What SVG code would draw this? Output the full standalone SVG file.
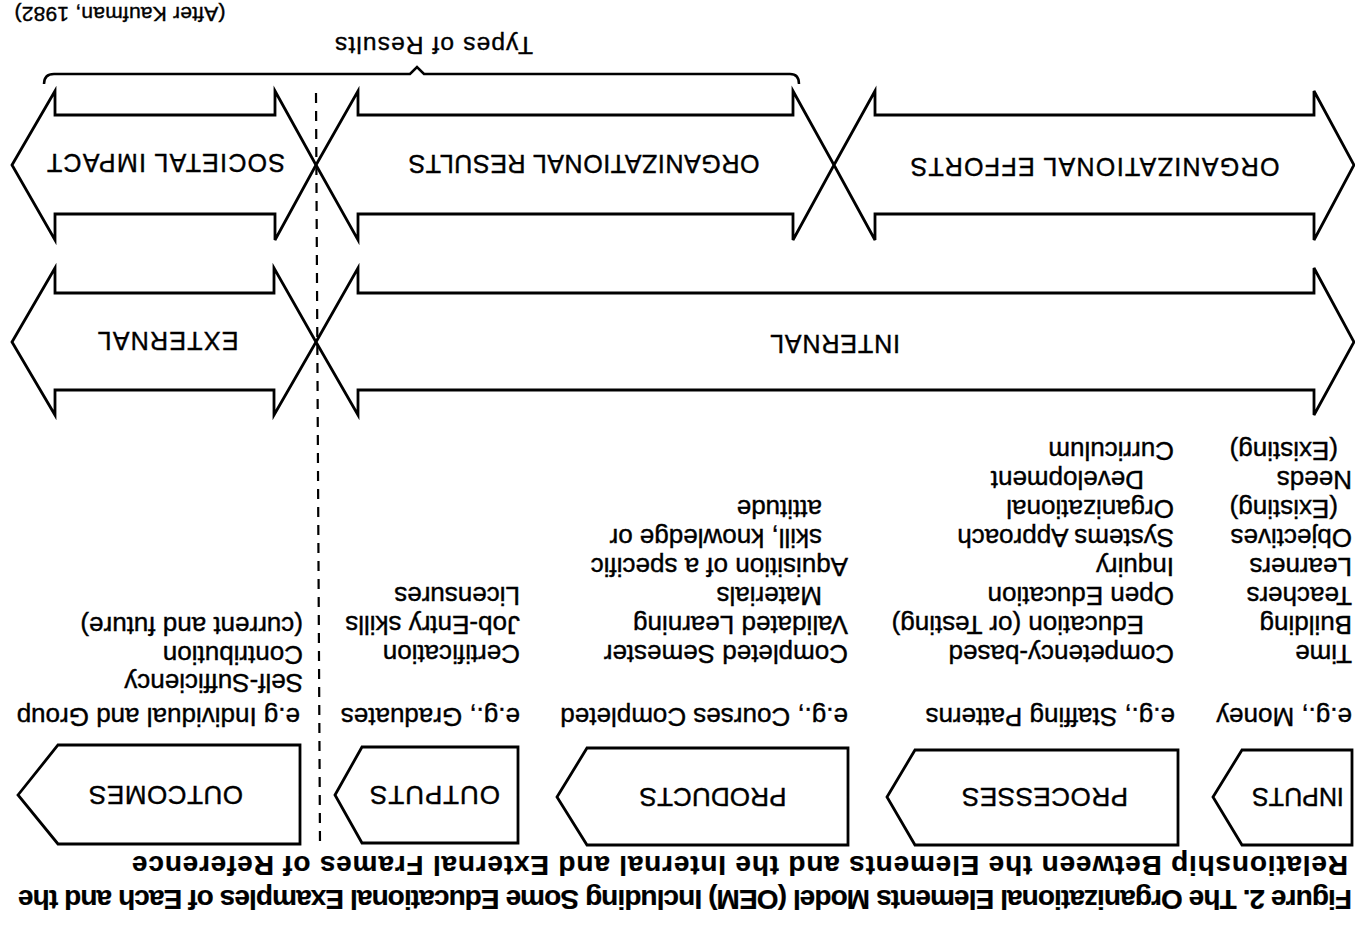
<svg xmlns="http://www.w3.org/2000/svg" width="1355" height="925" viewBox="0 0 1355 925">
<style>
.sh{fill:#fff;stroke:#000;stroke-width:2.8;stroke-linejoin:miter}
.t{font-family:"Liberation Sans",Arial,Helvetica,sans-serif;fill:#000;stroke:#000;stroke-width:0.4}
.b{font-size:26px}
.lab{font-size:25px}
.box{font-size:26px}
.cap{font-size:28px;font-weight:bold;stroke-width:0.2}
.note{font-size:21px}
.dash{fill:none;stroke:#000;stroke-width:2.2;stroke-dasharray:10 8}
.brace{fill:none;stroke:#000;stroke-width:2.5}
</style>
<rect width="1355" height="925" fill="#fff"/>

<!-- source note and brace -->
<g id="source">
<text class="t note" x="120" y="7" text-anchor="middle" textLength="211" lengthAdjust="spacing" transform="rotate(180 120 7)">(After Kaufman, 1982)</text>
</g>
<g id="types-of-results">
<path class="brace" d="M44,84 Q44,74 54,74 L410,74 L417,67 L424,74 L790,74 Q799,74 799,84"/>
<text class="t" style="font-size:24.5px" x="434" y="37" text-anchor="middle" textLength="198" lengthAdjust="spacing" transform="rotate(180 434 37)">Types of Results</text>
</g>

<!-- top band -->
<g id="societal-impact">
<polygon class="sh" points="12,165 55,91 55,115 275,115 275,91 316,165 275,240 275,214 55,214 55,240"/>
<text class="t lab" x="166" y="154" text-anchor="middle" textLength="238" lengthAdjust="spacing" transform="rotate(180 166 154)">SOCIETAL IMPACT</text>
</g>
<g id="organizational-results">
<polygon class="sh" points="316,165 358,91 358,115 793,115 793,91 834,165 793,240 793,214 358,214 358,240"/>
<text class="t lab" x="584" y="155" text-anchor="middle" textLength="351" lengthAdjust="spacing" transform="rotate(180 584 155)">ORGANIZATIONAL RESULTS</text>
</g>
<g id="organizational-efforts">
<polygon class="sh" points="834,165 875,91 875,115 1314,115 1314,91 1354,165 1314,240 1314,214 875,214 875,240"/>
<text class="t lab" x="1095" y="158" text-anchor="middle" textLength="369" lengthAdjust="spacing" transform="rotate(180 1095 158)">ORGANIZATIONAL EFFORTS</text>
</g>

<!-- middle band -->
<g id="external">
<polygon class="sh" points="12,342 55,268 55,293 274,293 274,268 316,342 274,415 274,390 55,390 55,415"/>
<text class="t lab" x="168" y="332" text-anchor="middle" textLength="141" lengthAdjust="spacing" transform="rotate(180 168 332)">EXTERNAL</text>
</g>
<g id="internal">
<polygon class="sh" points="316,342 358,268 358,293 1314,293 1314,268 1354,342 1314,415 1314,390 358,390 358,415"/>
<text class="t lab" x="835" y="335" text-anchor="middle" textLength="130" lengthAdjust="spacing" transform="rotate(180 835 335)">INTERNAL</text>
</g>

<!-- divider -->
<g id="connectors">
<line class="dash" x1="316" y1="93" x2="320" y2="845"/>
</g>

<!-- element boxes -->
<g id="inputs">
<polygon class="sh" points="1213,797 1242,750 1352,750 1352,845 1242,845"/>
<text class="t" style="font-size:25px" x="1298" y="788" text-anchor="middle" transform="rotate(180 1298 788)">INPUTS</text>
<g class="t b">
<text x="1352" y="708" transform="rotate(180 1352 708)">e.g., Money</text>
<text x="1352" y="645" transform="rotate(180 1352 645)">Time</text>
<text x="1352" y="616" transform="rotate(180 1352 616)">Building</text>
<text x="1352" y="587" transform="rotate(180 1352 587)">Teachers</text>
<text x="1352" y="558" transform="rotate(180 1352 558)">Learners</text>
<text x="1352" y="529" transform="rotate(180 1352 529)">Objectives</text>
<text x="1338" y="500" transform="rotate(180 1338 500)">(Existing)</text>
<text x="1352" y="471" transform="rotate(180 1352 471)">Needs</text>
<text x="1338" y="442" transform="rotate(180 1338 442)">(Existing)</text>
</g>
</g>

<g id="processes">
<polygon class="sh" points="887,797 915,750 1178,750 1178,845 915,845"/>
<text class="t box" x="1045" y="788" text-anchor="middle" textLength="166" lengthAdjust="spacing" transform="rotate(180 1045 788)">PROCESSES</text>
<g class="t b">
<text x="1175" y="708" transform="rotate(180 1175 708)">e.g., Staffing Patterns</text>
<text x="1174" y="645" transform="rotate(180 1174 645)">Competency-based</text>
<text x="1144" y="616" transform="rotate(180 1144 616)">Education (or Testing)</text>
<text x="1174" y="587" transform="rotate(180 1174 587)">Open Education</text>
<text x="1174" y="558" transform="rotate(180 1174 558)">Inquiry</text>
<text x="1174" y="529" transform="rotate(180 1174 529)">Systems Approach</text>
<text x="1174" y="500" transform="rotate(180 1174 500)">Organizational</text>
<text x="1144" y="471" transform="rotate(180 1144 471)">Development</text>
<text x="1174" y="442" transform="rotate(180 1174 442)">Curriculum</text>
</g>
</g>

<g id="products">
<polygon class="sh" points="557,797 587,748 848,748 848,845 587,845"/>
<text class="t box" x="713" y="788" text-anchor="middle" textLength="147" lengthAdjust="spacing" transform="rotate(180 713 788)">PRODUCTS</text>
<g class="t b">
<text x="848" y="708" transform="rotate(180 848 708)">e.g., Courses Completed</text>
<text x="848" y="645" transform="rotate(180 848 645)">Completed Semester</text>
<text x="848" y="616" transform="rotate(180 848 616)">Validated Learning</text>
<text x="822" y="587" transform="rotate(180 822 587)">Materials</text>
<text x="848" y="558" transform="rotate(180 848 558)">Aquisition of a specific</text>
<text x="822" y="529" transform="rotate(180 822 529)">skill, knowledge or</text>
<text x="822" y="500" transform="rotate(180 822 500)">attitude</text>
</g>
</g>

<g id="outputs">
<polygon class="sh" points="335,795 362,747 518,747 518,843 362,843"/>
<text class="t box" x="435" y="786" text-anchor="middle" textLength="130" lengthAdjust="spacing" transform="rotate(180 435 786)">OUTPUTS</text>
<g class="t b">
<text x="520" y="708" transform="rotate(180 520 708)">e.g., Graduates</text>
<text x="520" y="645" transform="rotate(180 520 645)">Certification</text>
<text x="520" y="616" transform="rotate(180 520 616)">Job-Entry skills</text>
<text x="520" y="587" transform="rotate(180 520 587)">Licensures</text>
</g>
</g>

<g id="outcomes">
<polygon class="sh" points="18,795 58,745 300,745 300,844 58,844"/>
<text class="t box" x="166" y="786" text-anchor="middle" textLength="154" lengthAdjust="spacing" transform="rotate(180 166 786)">OUTCOMES</text>
<g class="t b">
<text x="300" y="708" transform="rotate(180 300 708)">e.g Individual and Group</text>
<text x="303" y="674" transform="rotate(180 303 674)">Self-Sufficiency</text>
<text x="303" y="646" transform="rotate(180 303 646)">Contribution</text>
<text x="303" y="617" transform="rotate(180 303 617)">(current and future)</text>
</g>
</g>

<!-- caption -->
<g id="caption" class="t cap">
<text x="1352" y="890" textLength="1334" lengthAdjust="spacing" transform="rotate(180 1352 890)">Figure 2. The Organizational Elements Model (OEM) Including Some Educational Examples of Each and the</text>
<text x="1348" y="856" textLength="1216" lengthAdjust="spacing" transform="rotate(180 1348 856)">Relationship Between the Elements and the Internal and External Frames of Reference</text>
</g>
</svg>
